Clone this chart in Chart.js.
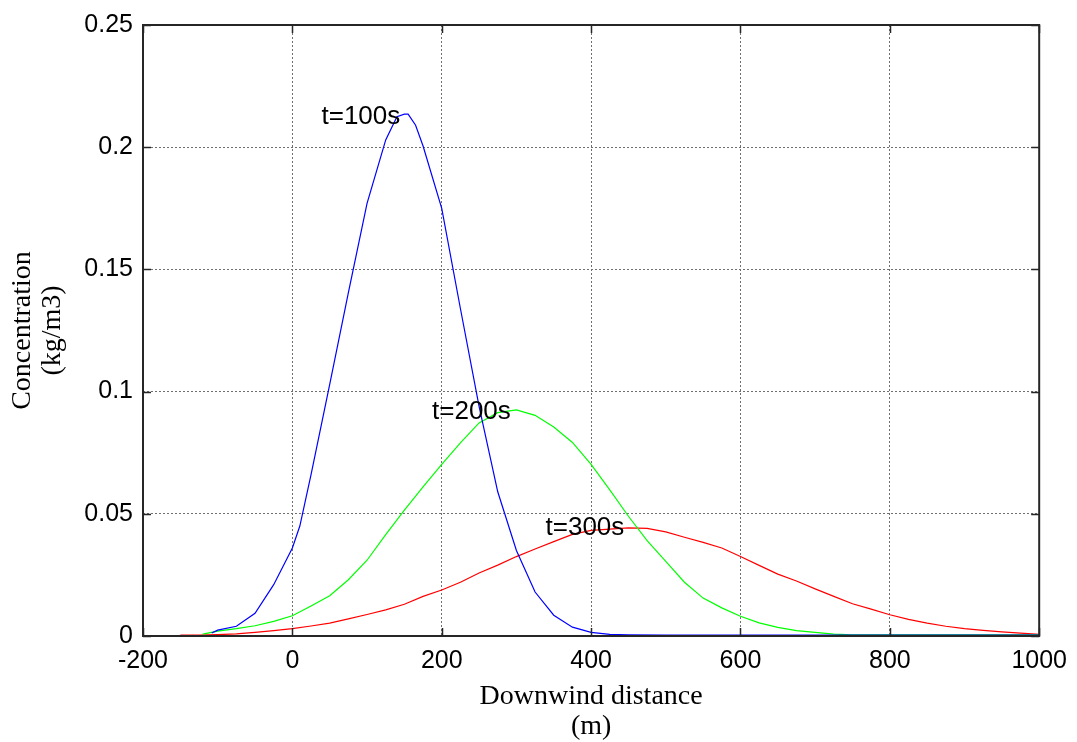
<!DOCTYPE html>
<html>
<head>
<meta charset="utf-8">
<script src="https://cdn.jsdelivr.net/npm/chart.js@4.4.0/dist/chart.umd.min.js"></script>
<style>
  html, body { margin: 0; padding: 0; background: #fff; }
  #wrap { width: 1077px; height: 742px; }
</style>
</head>
<body>
<div id="wrap"><canvas id="plume"></canvas></div>
<script>
// downwind distance (m) / concentration (kg/m3) for each release time
const distT100 = [-108, -100, -75, -50, -25, 0, 10, 25, 50, 75, 100, 125, 140, 150, 155, 165, 175, 200, 225, 250, 275, 300, 325, 350, 375, 400, 425, 450, 500, 600, 700, 800, 900, 1000];
const concT100 = [0.0012, 0.0024, 0.004, 0.0093, 0.021, 0.036, 0.045, 0.066, 0.103, 0.1405, 0.177, 0.203, 0.2125, 0.2135, 0.2135, 0.209, 0.2005, 0.175, 0.134, 0.094, 0.059, 0.035, 0.018, 0.0085, 0.0036, 0.0015, 0.0007, 0.0005, 0.0004, 0.0004, 0.0004, 0.0004, 0.0004, 0.0004];

const distT200 = [-120, -100, -75, -50, -25, 0, 25, 50, 75, 100, 125, 150, 175, 200, 225, 250, 275, 300, 325, 350, 375, 400, 425, 450, 475, 500, 525, 550, 575, 600, 625, 650, 675, 700, 725, 750, 800, 900, 1000];
const concT200 = [0.0008, 0.002, 0.003, 0.0042, 0.006, 0.0083, 0.0123, 0.0165, 0.023, 0.031, 0.0415, 0.0515, 0.061, 0.0702, 0.079, 0.0872, 0.0914, 0.0925, 0.0903, 0.0855, 0.0792, 0.0702, 0.0598, 0.049, 0.039, 0.0305, 0.022, 0.0155, 0.0115, 0.0081, 0.0054, 0.0035, 0.0022, 0.0015, 0.0008, 0.0005, 0.0005, 0.0005, 0.0005];

const distT300 = [-150, -125, -100, -75, -50, -25, 0, 25, 50, 75, 100, 125, 150, 175, 200, 225, 250, 275, 300, 325, 350, 375, 400, 425, 450, 475, 500, 525, 550, 575, 600, 625, 650, 675, 700, 725, 750, 775, 800, 825, 850, 875, 900, 925, 950, 975, 1000];
const concT300 = [0.0004, 0.0004, 0.0006, 0.0009, 0.0015, 0.0022, 0.003, 0.0041, 0.0053, 0.007, 0.0088, 0.0107, 0.013, 0.0162, 0.0188, 0.022, 0.0258, 0.029, 0.0325, 0.0356, 0.0386, 0.0416, 0.0432, 0.0437, 0.0442, 0.044, 0.0426, 0.0404, 0.0383, 0.036, 0.0325, 0.0289, 0.0253, 0.0225, 0.0193, 0.0162, 0.0132, 0.011, 0.0087, 0.0068, 0.0053, 0.004, 0.003, 0.0023, 0.0017, 0.0012, 0.0007];

// text labels placed at data coordinates
const curveLabels = ['t=100s', 't=200s', 't=300s'];
const labelDist = [39, 187, 339];
const labelConc = [0.2125, 0.0917, 0.0442];

const xTickLabels = ['-200', '0', '200', '400', '600', '800', '1000'];
const yTickLabels = ['0', '0.05', '0.1', '0.15', '0.2', '0.25'];

const toPoints = (xs, ys) => xs.map((v, i) => ({ x: v, y: ys[i] }));

const tickFont = { family: '"Liberation Sans", Arial, sans-serif', size: 25 };
const titleFont = { family: '"Liberation Serif", "Times New Roman", serif', size: 28, lineHeight: 1.07 };

// box around the axes, inward tick marks and curve labels
const framePlugin = {
  id: 'framePlugin',
  afterDatasetsDraw(chart) {
    const { ctx, chartArea: a, scales: { x, y } } = chart;
    ctx.save();
    ctx.font = '26px "Liberation Sans", Arial, sans-serif';
    ctx.fillStyle = '#000';
    ctx.textAlign = 'left';
    ctx.textBaseline = 'middle';
    curveLabels.forEach((t, i) => {
      ctx.fillText(t, x.getPixelForValue(labelDist[i]), y.getPixelForValue(labelConc[i]));
    });

    ctx.strokeStyle = '#262626';
    ctx.lineWidth = 2;
    ctx.strokeRect(a.left, a.top, a.right - a.left, a.bottom - a.top);

    const len = 8;
    ctx.lineWidth = 1.5;
    ctx.beginPath();
    x.ticks.forEach(t => {
      const px = Math.round(x.getPixelForValue(t.value)) + 0.5;
      ctx.moveTo(px, a.bottom); ctx.lineTo(px, a.bottom - len);
      ctx.moveTo(px, a.top); ctx.lineTo(px, a.top + len);
    });
    y.ticks.forEach(t => {
      const py = Math.round(y.getPixelForValue(t.value)) + 0.5;
      ctx.moveTo(a.left, py); ctx.lineTo(a.left + len, py);
      ctx.moveTo(a.right, py); ctx.lineTo(a.right - len, py);
    });
    ctx.stroke();
    ctx.restore();
  }
};

const lineStyle = (color) => ({
  borderColor: color,
  backgroundColor: color,
  borderWidth: 1.2,
  pointRadius: 0,
  tension: 0,
  fill: false
});

new Chart(document.getElementById('plume'), {
  type: 'line',
  data: {
    datasets: [
      { label: 't=100s', data: toPoints(distT100, concT100), ...lineStyle('#0000ff') },
      { label: 't=200s', data: toPoints(distT200, concT200), ...lineStyle('#00ff00') },
      { label: 't=300s', data: toPoints(distT300, concT300), ...lineStyle('#ff0000') }
    ]
  },
  options: {
    responsive: true,
    maintainAspectRatio: false,
    animation: false,
    layout: { padding: { top: 20, right: 37, left: 0, bottom: 0 } },
    plugins: {
      legend: { display: false },
      tooltip: { enabled: false }
    },
    scales: {
      x: {
        type: 'linear',
        min: -200,
        max: 1000,
        afterFit(s) { s.height = 106; },
        ticks: {
          stepSize: 200,
          color: '#000',
          font: tickFont,
          padding: 10,
          maxRotation: 0,
          callback: (v, i) => xTickLabels[i]
        },
        grid: { color: '#707070', lineWidth: 1, drawTicks: false },
        border: { display: false, dash: [2, 2] },
        title: {
          display: true,
          text: ['Downwind distance', '(m)'],
          color: '#000',
          font: titleFont,
          padding: { top: 0, bottom: 0 }
        }
      },
      y: {
        type: 'linear',
        min: 0,
        max: 0.25,
        afterFit(s) { s.width = 143; },
        ticks: {
          stepSize: 0.05,
          color: '#000',
          font: tickFont,
          padding: 10,
          callback: (v, i) => yTickLabels[i]
        },
        grid: { color: '#707070', lineWidth: 1, drawTicks: false },
        border: { display: false, dash: [2, 2] },
        title: {
          display: true,
          text: ['Concentration', '(kg/m3)'],
          color: '#000',
          font: titleFont,
          padding: { top: 8, bottom: 0 }
        }
      }
    }
  },
  plugins: [framePlugin]
});
</script>
</body>
</html>
